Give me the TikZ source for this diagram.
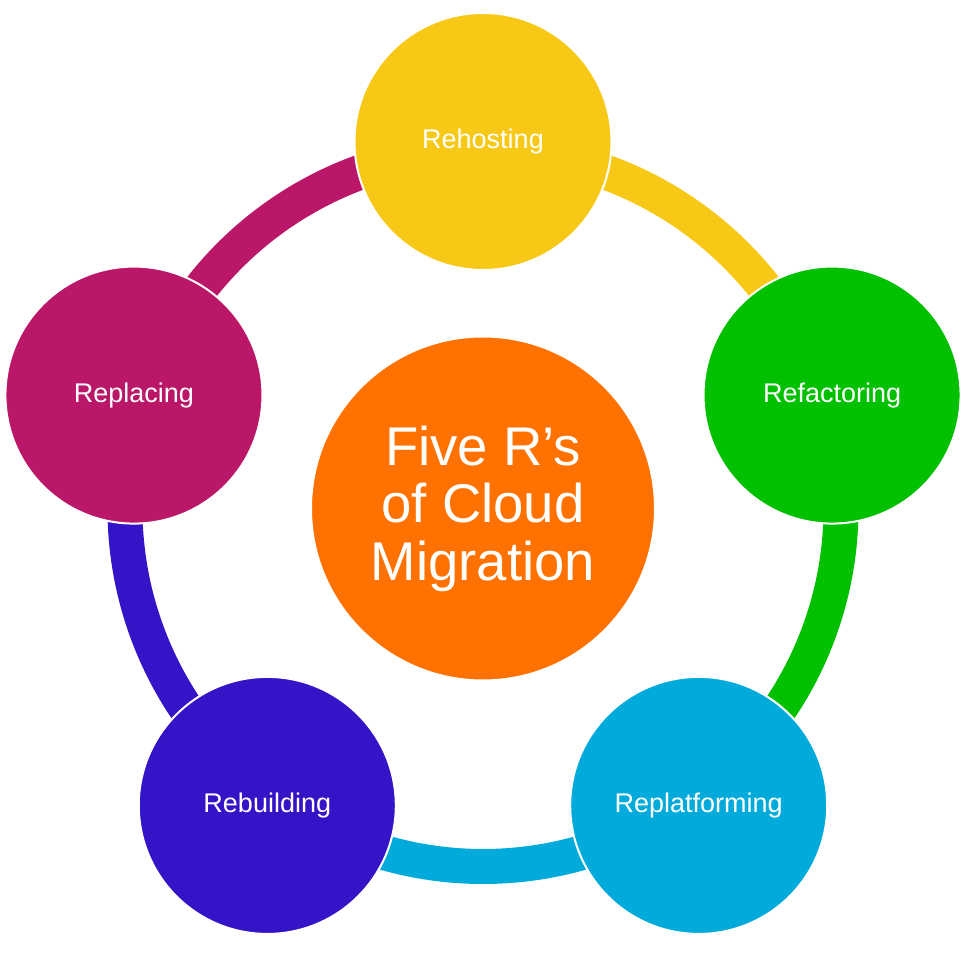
\documentclass[tikz,border=0pt]{standalone}
\usepackage{fontspec}
\setmainfont{Liberation Sans}
\definecolor{cyel}{RGB}{247,200,21}
\definecolor{cgrn}{RGB}{0,192,0}
\definecolor{ccya}{RGB}{0,170,219}
\definecolor{cpur}{RGB}{53,20,200}
\definecolor{cmag}{RGB}{186,23,105}
\definecolor{corg}{RGB}{255,113,0}
\tikzset{
  rnode/.style={circle, minimum size=257pt, inner sep=0pt, draw=white, line width=2pt,
    text=white, font=\fontsize{27}{32}\selectfont},
  hub/.style={circle, minimum size=344pt, inner sep=0pt, fill=corg, draw=white, line width=2pt,
    text=white, align=center, font=\fontsize{54.5}{57.5}\selectfont},
  ringarc/.style={line width=35pt}
}
\begin{document}
\begin{tikzpicture}[x=1pt,y=1pt]
\useasboundingbox (-483,-443.5) rectangle (493,508.5);
\fill[white] (-483,-443.5) rectangle (493,508.5);
% ring coordinates
\coordinate (r1) at (90:358pt);
\coordinate (r2) at (18:358pt);
\coordinate (r3) at (-54:358pt);
\coordinate (r4) at (-126:358pt);
\coordinate (r5) at (-198:358pt);
% ring arcs
\draw[ringarc, cyel] (r1) arc[start angle=90, end angle=18, radius=358pt];
\draw[ringarc, cgrn] (r2) arc[start angle=18, end angle=-54, radius=358pt];
\draw[ringarc, ccya] (r3) arc[start angle=-54, end angle=-126, radius=358pt];
\draw[ringarc, cpur] (r4) arc[start angle=-126, end angle=-198, radius=358pt];
\draw[ringarc, cmag] (r5) arc[start angle=-198, end angle=-270, radius=358pt];
% nodes
\node[hub] (hub) at (0,0) {Five R’s\\of Cloud\\Migration};
\node[rnode, fill=cyel] (rehost) at (90:367pt) {Rehosting};
\node[rnode, fill=cgrn] (refac) at (18:367pt) {Refactoring};
\node[rnode, fill=ccya] (replat) at (-54:367pt) {Replatforming};
\node[rnode, fill=cpur] (rebuild) at (-126:367pt) {Rebuilding};
\node[rnode, fill=cmag] (replace) at (-198:367pt) {Replacing};
\end{tikzpicture}
\end{document}
